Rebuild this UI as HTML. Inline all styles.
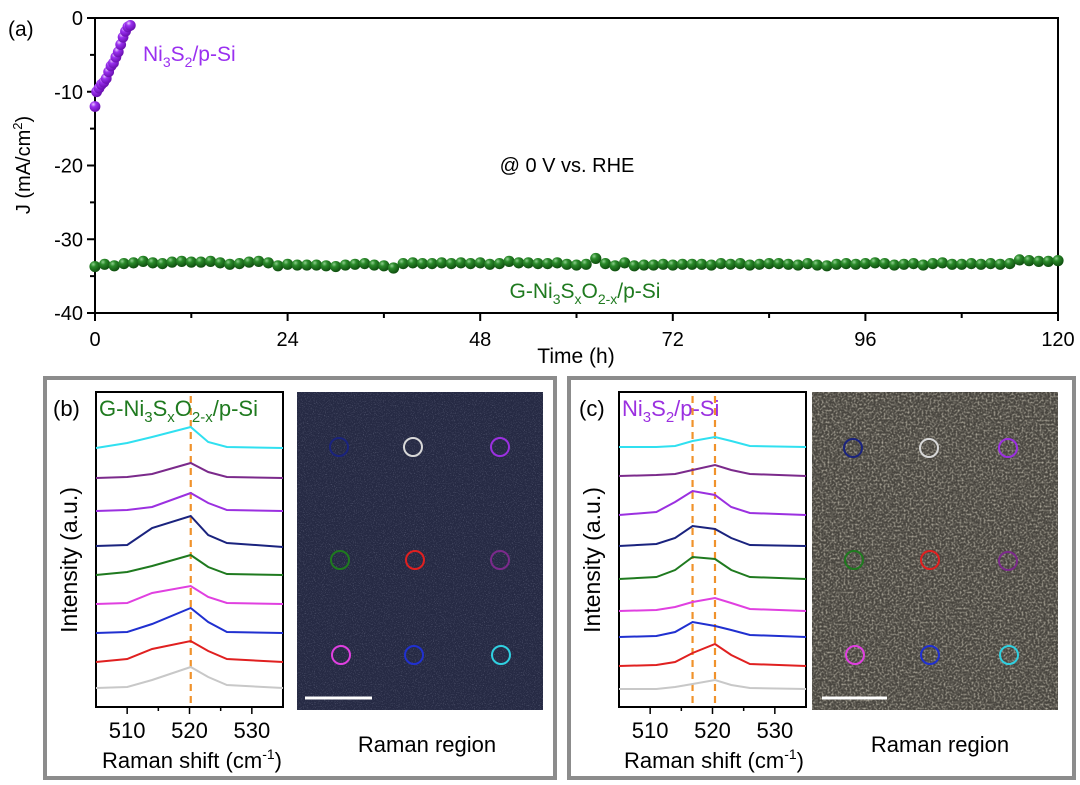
<!DOCTYPE html>
<html><head><meta charset="utf-8"><style>
html,body{margin:0;padding:0;background:#fff;}
svg{display:block;font-family:"Liberation Sans",Arial,sans-serif;}
</style></head><body>
<svg id="fig" width="1080" height="785" viewBox="0 0 1080 785">
<defs>
<radialGradient id="gG" cx="0.35" cy="0.3" r="0.7"><stop offset="0" stop-color="#8fd08f"/><stop offset="0.35" stop-color="#2a8a2a"/><stop offset="1" stop-color="#0f4f0f"/></radialGradient>
<radialGradient id="gP" cx="0.35" cy="0.3" r="0.7"><stop offset="0" stop-color="#e8c8ff"/><stop offset="0.35" stop-color="#9a30f0"/><stop offset="1" stop-color="#6a10b0"/></radialGradient>
<filter id="noiseB" x="0" y="0" width="1" height="1"><feTurbulence type="fractalNoise" baseFrequency="0.9" numOctaves="2" seed="3"/><feColorMatrix type="matrix" values="0 0 0 0 0.75  0 0 0 0 0.78  0 0 0 0 0.95  0 0 0 1.4 -0.75"/><feComposite in2="SourceGraphic" operator="in"/></filter>
<filter id="noiseC" x="0" y="0" width="1" height="1"><feTurbulence type="fractalNoise" baseFrequency="0.5" numOctaves="2" seed="7"/><feColorMatrix type="matrix" values="0 0 0 0 0.9  0 0 0 0 0.85  0 0 0 0 0.7  0 0 0 2.0 -0.85"/><feComposite in2="SourceGraphic" operator="in"/></filter>
</defs>

<text x="8" y="36" font-size="21">(a)</text>
<text transform="translate(30,165) rotate(-90)" text-anchor="middle" font-size="20">J (mA/cm<tspan font-size="13" dy="-8">2</tspan><tspan dy="8">)</tspan></text>
<text x="576" y="363" text-anchor="middle" font-size="21">Time (h)</text>
<text x="567" y="172" text-anchor="middle" font-size="20">@ 0 V vs. RHE</text>
<text x="143" y="61" font-size="21" fill="#9a30f0">Ni<tspan font-size="14" dy="6">3</tspan><tspan dy="-6">S</tspan><tspan font-size="14" dy="6">2</tspan><tspan dy="-6">/p-Si</tspan></text>
<text x="585" y="298" text-anchor="middle" font-size="21" fill="#1f7a1f">G-Ni<tspan font-size="14" dy="6">3</tspan><tspan dy="-6">S</tspan><tspan font-size="14" dy="6">x</tspan><tspan dy="-6">O</tspan><tspan font-size="14" dy="6">2-x</tspan><tspan dy="-6">/p-Si</tspan></text>
<g id="plotA"></g>

<rect x="45" y="378" width="510" height="400" fill="none" stroke="#8c8c8c" stroke-width="4"/>
<text x="53" y="416" font-size="22">(b)</text>
<text transform="translate(77,560) rotate(-90)" text-anchor="middle" font-size="23">Intensity (a.u.)</text>
<text x="192" y="768" text-anchor="middle" font-size="22">Raman shift (cm<tspan font-size="14" dy="-9">-1</tspan><tspan dy="9">)</tspan></text>
<text x="427" y="752" text-anchor="middle" font-size="22">Raman region</text>
<rect x="297" y="392" width="246" height="318" fill="#262a44"/>
<rect x="297" y="392" width="246" height="318" fill="#fff" filter="url(#noiseB)" opacity="0.55"/>
<line x1="305" y1="698" x2="372" y2="698" stroke="#fff" stroke-width="3"/>
<g id="plotB"></g>

<rect x="569" y="378" width="505" height="400" fill="none" stroke="#8c8c8c" stroke-width="4"/>
<text x="579" y="416" font-size="22">(c)</text>
<text transform="translate(600,560) rotate(-90)" text-anchor="middle" font-size="23">Intensity (a.u.)</text>
<text x="714" y="768" text-anchor="middle" font-size="22">Raman shift (cm<tspan font-size="14" dy="-9">-1</tspan><tspan dy="9">)</tspan></text>
<text x="940" y="752" text-anchor="middle" font-size="22">Raman region</text>
<rect x="812" y="392" width="246" height="318" fill="#48453f"/>
<rect x="812" y="392" width="246" height="318" fill="#fff" filter="url(#noiseC)" opacity="0.7"/>
<line x1="822" y1="698" x2="887" y2="698" stroke="#fff" stroke-width="3"/>
<g id="plotC"></g>
</svg>
<script>
const ticksX = [0, 24, 48, 72, 96, 120];
const ticksY = [0, -10, -20, -30, -40];
const greenTime = [0,1.2,2.4,3.6,4.8,6,7.2,8.4,9.6,10.8,12,13.2,14.4,15.6,16.8,18,19.2,20.4,21.6,22.8,24,25.2,26.4,27.6,28.8,30,31.2,32.4,33.6,34.8,36,37.2,38.4,39.6,40.8,42,43.2,44.4,45.6,46.8,48,49.2,50.4,51.6,52.8,54,55.2,56.4,57.6,58.8,60,61.2,62.4,63.6,64.8,66,67.2,68.4,69.6,70.8,72,73.2,74.4,75.6,76.8,78,79.2,80.4,81.6,82.8,84,85.2,86.4,87.6,88.8,90,91.2,92.4,93.6,94.8,96,97.2,98.4,99.6,100.8,102,103.2,104.4,105.6,106.8,108,109.2,110.4,111.6,112.8,114,115.2,116.4,117.6,118.8,120];
const greenJ = [-33.7,-33.4,-33.6,-33.3,-33.2,-33.0,-33.2,-33.3,-33.1,-33.0,-33.1,-33.1,
-33.0,-33.2,-33.4,-33.3,-33.1,-33.0,-33.2,-33.6,-33.4,-33.5,-33.5,-33.5,
-33.6,-33.7,-33.5,-33.4,-33.3,-33.5,-33.6,-33.9,-33.3,-33.2,-33.3,-33.3,
-33.2,-33.3,-33.2,-33.3,-33.2,-33.4,-33.3,-33.0,-33.2,-33.2,-33.3,-33.3,
-33.2,-33.4,-33.5,-33.4,-32.6,-33.3,-33.6,-33.2,-33.6,-33.5,-33.5,-33.4,
-33.5,-33.4,-33.4,-33.4,-33.5,-33.3,-33.4,-33.3,-33.5,-33.4,-33.3,-33.3,
-33.4,-33.5,-33.3,-33.5,-33.6,-33.4,-33.3,-33.4,-33.3,-33.2,-33.3,-33.5,
-33.4,-33.3,-33.5,-33.3,-33.2,-33.4,-33.4,-33.3,-33.4,-33.3,-33.4,-33.3,
-32.8,-32.9,-33.0,-33.0,-32.9];
const purpleTime = [0,0.2,0.5,0.8,1.1,1.4,1.7,2.0,2.3,2.6,2.9,3.2,3.5,3.8,4.1,4.4];
const purpleJ = [-12.0,-10.0,-9.5,-9.0,-8.7,-8.2,-7.3,-6.5,-6.1,-5.3,-4.6,-3.6,-2.6,-1.8,-1.2,-1.0];

const ramanTicks = [510, 520, 530];
const shiftB = [505, 510, 514, 520.2, 523, 526, 535];
const specB_cyan    = [259, 264, 270, 280, 265, 260, 259];
const specB_plum    = [229, 230, 233, 244, 235, 230, 229];
const specB_violet  = [196, 197, 200, 214, 204, 197, 196];
const specB_navy    = [161, 162, 179, 191, 172, 164, 160];
const specB_green   = [132, 135, 141, 152, 140, 133, 132];
const specB_magenta = [103, 104, 114, 121, 110, 104, 103];
const specB_blue    = [74, 75, 83, 99, 85, 75, 74];
const specB_red     = [45, 48, 58, 66, 56, 48, 45];
const specB_gray    = [19, 20, 27, 40, 30, 22, 19];
const peaksB = [520.2];
const shiftC = [505, 511, 514, 516.8, 520.4, 523, 526, 535];
const specC_cyan    = [260, 260, 261, 266, 270, 266, 261, 260];
const specC_plum    = [231, 232, 233, 237, 242, 237, 233, 231];
const specC_violet  = [192, 195, 205, 216, 212, 200, 194, 192];
const specC_navy    = [161, 163, 169, 181, 178, 169, 162, 161];
const specC_green   = [128, 130, 137, 150, 148, 137, 130, 128];
const specC_magenta = [96, 97, 100, 105, 109, 104, 98, 96];
const specC_blue    = [70, 71, 75, 85, 81, 77, 72, 70];
const specC_red     = [41, 42, 45, 54, 63, 52, 43, 41];
const specC_gray    = [18, 18, 20, 23, 27, 22, 19, 18];
const peaksC = [516.8, 520.4];
const spotColors = ["#1a237e","#d8d8d8","#9b30e0","#1f7a1f","#e02020","#7b2a8b","#e040e0","#2030d0","#30d0e0"];

const NS = "http://www.w3.org/2000/svg";
function mk(tag, attrs, parent){ const e=document.createElementNS(NS,tag); for(const k in attrs) e.setAttribute(k,attrs[k]); parent.appendChild(e); return e; }

(function(){
  const g = document.getElementById('plotA');
  const L=95,R=1058,T=18,B=313;
  const sx = t => L + (t-0)/(120-0)*(R-L);
  const sy = j => T + (0-j)/(0-(-40))*(B-T);
  const frame = mk('rect',{x:L,y:T,width:R-L,height:B-T,fill:'none',stroke:'#000','stroke-width':2},g);
  
  
  ticksX.forEach(t=>{
    const ln = mk('line',{x1:sx(t),y1:B,x2:sx(t),y2:B+8,stroke:'#000','stroke-width':2},g);
    
    
    const tx = mk('text',{x:sx(t),y:B+33,'text-anchor':'middle','font-size':20},g);
    tx.textContent = t;
    
    
  });
  for(let i=0;i<ticksX.length-1;i++){
    const m=(ticksX[i]+ticksX[i+1])/2;
    mk('line',{x1:sx(m),y1:B,x2:sx(m),y2:B+5,stroke:'#000','stroke-width':2},g);
  }
  ticksY.forEach(v=>{
    const ln = mk('line',{x1:L-8,y1:sy(v),x2:L,y2:sy(v),stroke:'#000','stroke-width':2},g);
    
    
    const tx = mk('text',{x:L-12,y:sy(v)+7,'text-anchor':'end','font-size':20},g);
    tx.textContent = v;
    
    
  });
  for(let i=0;i<ticksY.length-1;i++){
    const m=(ticksY[i]+ticksY[i+1])/2;
    mk('line',{x1:L-5,y1:sy(m),x2:L,y2:sy(m),stroke:'#000','stroke-width':2},g);
  }
  const gs = mk('g',{},g);
  
  
  greenTime.forEach((t,i)=>{
    if(i>=greenJ.length) return;
    const c = mk('circle',{cx:sx(t),cy:sy(greenJ[i]),r:5.6,fill:'url(#gG)'},gs);
    
    
  });
  const ps = mk('g',{},g);
  
  
  purpleTime.forEach((t,i)=>{
    const c = mk('circle',{cx:sx(t),cy:sy(purpleJ[i]),r:5.4,fill:'url(#gP)'},ps);
    
    
  });
})();

const specColors = ["#30e0f0","#7b2a8b","#9b30e0","#1a237e","#1f7a1f","#e040e0","#2030d0","#e02020","#c8c8c8"];
function ramanPanel(id, L, R, shift, specs, peaks, label, labelColor, photoL, spots){
  const g = document.getElementById(id);
  const T=392,B=707;
  const sx = x => L + (x-505)/(535-505)*(R-L);
  const sy = v => B - v/315*(B-T);
  const fr = mk('rect',{x:L,y:T,width:R-L,height:B-T,fill:'#fff',stroke:'#000','stroke-width':2},g);
  
  
  ramanTicks.forEach(t=>{
    mk('line',{x1:sx(t),y1:B,x2:sx(t),y2:B+7,stroke:'#000','stroke-width':1.5},g);
    const tx = mk('text',{x:sx(t),y:B+31,'text-anchor':'middle','font-size':22},g);
    tx.textContent=t;
    
    
  });
  [515,525].forEach(t=>mk('line',{x1:sx(t),y1:B,x2:sx(t),y2:B+4,stroke:'#000','stroke-width':1.5},g));
  peaks.forEach(p=>{
    const d = mk('line',{x1:sx(p),y1:T+4,x2:sx(p),y2:B,stroke:'#f0922b','stroke-width':2.2,'stroke-dasharray':'7,5'},g);
    
    
  });
  specs.forEach((s,k)=>{
    const pts = s.map((v,i)=>sx(shift[i]).toFixed(1)+','+sy(v).toFixed(1)).join(' ');
    const pl = mk('polyline',{points:pts,fill:'none',stroke:specColors[k],'stroke-width':2},g);
    
    
  });
  const lt = mk('text',{x:L+3,y:T+24,'font-size':22,fill:labelColor},g);
  lt.innerHTML = label;
  
  
  spots.forEach((p,k)=>{
    const c = mk('circle',{cx:p[0],cy:p[1],r:9,fill:'none',stroke:spotColors[k],'stroke-width':2},g);
    
    
  });
}
ramanPanel('plotB',96,283,shiftB,[specB_cyan,specB_plum,specB_violet,specB_navy,specB_green,specB_magenta,specB_blue,specB_red,specB_gray],peaksB,
 'G-Ni<tspan font-size="15" dy="6">3</tspan><tspan dy="-6">S</tspan><tspan font-size="15" dy="6">x</tspan><tspan dy="-6">O</tspan><tspan font-size="15" dy="6">2-x</tspan><tspan dy="-6">/p-Si</tspan>','#1f7a1f',297,
 [[339,447],[413,447],[500,447],[340,560],[415,560],[500,560],[341,655],[414,655],[501,655]]);
ramanPanel('plotC',619,806,shiftC,[specC_cyan,specC_plum,specC_violet,specC_navy,specC_green,specC_magenta,specC_blue,specC_red,specC_gray],peaksC,
 'Ni<tspan font-size="15" dy="6">3</tspan><tspan dy="-6">S</tspan><tspan font-size="15" dy="6">2</tspan><tspan dy="-6">/p-Si</tspan>','#9b30e0',812,
 [[853,448],[929,448],[1008,448],[854,560],[930,560],[1008,561],[855,655],[930,655],[1009,655]]);
</script>
</body></html>
